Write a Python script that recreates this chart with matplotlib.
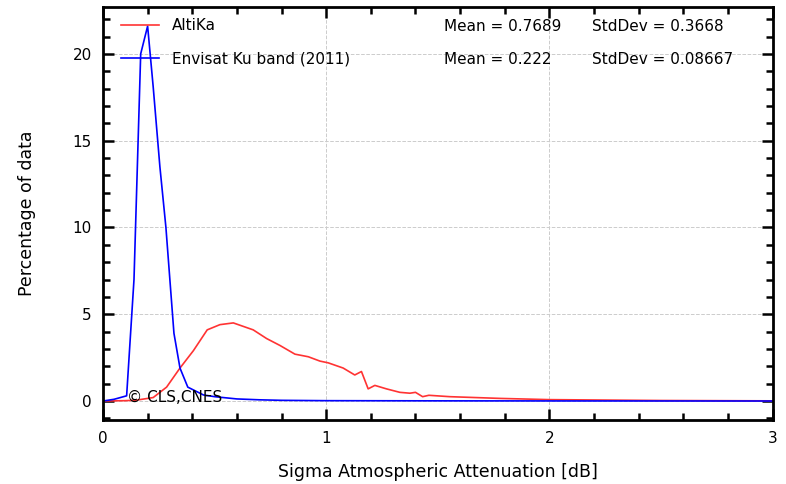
import matplotlib.pyplot as plt
from matplotlib.ticker import MultipleLocator

# valeurs
x_altika = [0.0, 0.10, 0.15, 0.225, 0.285, 0.345, 0.405, 0.467, 0.524, 0.584, 0.673, 0.733,
            0.793, 0.86, 0.92, 0.972, 1.009, 1.076, 1.128, 1.158, 1.188, 1.218, 1.27, 1.33,
            1.375, 1.40, 1.432, 1.46, 1.554, 1.78, 2.0, 2.5, 3.0]
y_altika = [0.0, 0.02, 0.05, 0.2, 0.8, 1.9, 2.9, 4.1, 4.4, 4.5, 4.1, 3.6,
            3.2, 2.7, 2.55, 2.3, 2.2, 1.9, 1.5, 1.7, 0.7, 0.9, 0.7, 0.5,
            0.45, 0.5, 0.25, 0.33, 0.25, 0.15, 0.08, 0.03, 0.01]

x_envisat = [0.0, 0.05, 0.106, 0.139, 0.169, 0.2, 0.225, 0.255, 0.282, 0.318, 0.345, 0.38,
             0.45, 0.5, 0.6, 0.7, 0.8, 1.0, 1.5, 2.0, 3.0]
y_envisat = [0.0, 0.1, 0.3, 7.0, 20.0, 21.6, 18.1, 13.5, 10.0, 3.9, 1.9, 0.8,
             0.35, 0.25, 0.12, 0.07, 0.04, 0.02, 0.01, 0.005, 0.0]

labels = ["AltiKa", "Envisat Ku band (2011)"]
means = ["0.7689", "0.222"]
stds = ["0.3668", "0.08667"]

fig = plt.figure(figsize=(7.86, 4.84), dpi=100)
ax = fig.add_axes([0.131, 0.132, 0.852, 0.8535])

ax.plot(x_altika, y_altika, color='#ff3333', lw=1.2, label=labels[0])
ax.plot(x_envisat, y_envisat, color='#0000ff', lw=1.2, label=labels[1])

ax.set_xlim(0, 3)
ax.set_ylim(-1.1, 22.7)
ax.xaxis.set_major_locator(MultipleLocator(1))
ax.xaxis.set_minor_locator(MultipleLocator(0.2))
ax.yaxis.set_major_locator(MultipleLocator(5))
ax.yaxis.set_minor_locator(MultipleLocator(1))
ax.tick_params(which='both', direction='in', top=True, right=True, width=1.8, labelsize=11)
ax.tick_params(which='major', length=8)
ax.tick_params(which='minor', length=5)
ax.tick_params(axis='x', pad=8)
ax.tick_params(axis='y', pad=8)
for s in ax.spines.values():
    s.set_linewidth(2)
ax.grid(True, which='major', ls='--', color='#cccccc', lw=0.7)

ax.legend(loc='upper left', bbox_to_anchor=(0, 1.017), frameon=False, fontsize=11,
          labelspacing=1.2, handlelength=2.5, handletextpad=0.8, borderaxespad=0.8)

# textes des statistiques
ax.text(1.53, 21.6, "Mean = " + means[0], fontsize=11, va='center')
ax.text(2.19, 21.6, "StdDev = " + stds[0], fontsize=11, va='center')
ax.text(1.53, 19.7, "Mean = " + means[1], fontsize=11, va='center')
ax.text(2.19, 19.7, "StdDev = " + stds[1], fontsize=11, va='center')
ax.text(0.107, 0.2, "© CLS,CNES", fontsize=11, va='center')

ax.set_xlabel("Sigma Atmospheric Attenuation [dB]", fontsize=12.5, labelpad=12)
ax.set_ylabel("Percentage of data", fontsize=12.5, labelpad=26)

fig.savefig("out.png")
